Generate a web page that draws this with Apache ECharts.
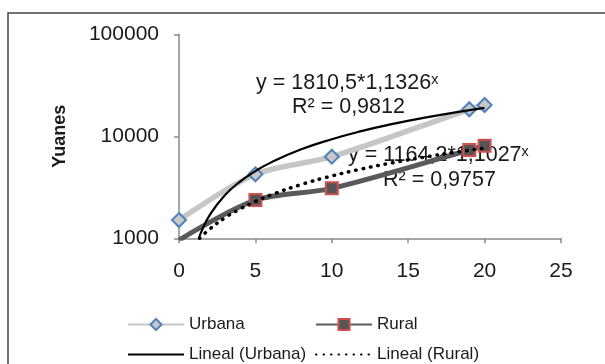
<!DOCTYPE html>
<html>
<head>
<meta charset="utf-8">
<script src="https://cdn.jsdelivr.net/npm/echarts@6/dist/echarts.min.js"></script>
<style>html,body{margin:0;padding:0;background:#fff}#c{width:605px;height:364px}</style>
</head>
<body>
<div id="c"></div>
<script>
// Data
var years = [0, 5, 10, 19, 20];
var urbana = [1510, 4240, 6310, 18400, 20270];
var rural = [960, 2370, 3090, 7340, 8090];
// Trend curves
var trendX = [1.3, 1.5, 2, 3, 4, 5, 6, 8, 10, 12, 14, 16, 18, 20];
var trendUrbana = [1000, 1195, 1680, 2640, 3600, 4560, 5520, 7450, 9370, 11300, 13220, 15140, 17070, 18990];
var trendRuralX = [1.35, 1.5, 2, 3, 4, 5, 6, 8, 10, 12, 14, 16, 18, 20];
var trendRural = [1000, 1050, 1230, 1585, 1940, 2300, 2655, 3370, 4085, 4800, 5510, 6225, 6940, 7655];
var xTicks = [0, 5, 10, 15, 20, 25];
var yTicks = [1000, 10000, 100000];

function pairs(xs, ys) { return xs.map(function (x, i) { return [x, ys[i]]; }); }

var font = '"Liberation Sans", Arial, sans-serif';
var chart = echarts.init(document.getElementById('c'), null, {renderer: 'canvas'});
var axisCol = '#8a8a8a';
var legendBase = {
  orient: 'horizontal', itemWidth: 56, itemHeight: 14, itemGap: 0, padding: 0,
  textStyle: {fontFamily: font, fontSize: 17, color: '#1a1a1a'},
  selectedMode: false
};
chart.setOption({
  animation: false,
  backgroundColor: '#ffffff',
  grid: {left: 179, right: 44, top: 34.3, bottom: 125.7},
  xAxis: {
    type: 'value', min: 0, max: 25, interval: 5,
    axisLine: {show: true, onZero: false, lineStyle: {color: axisCol, width: 1.5}},
    axisTick: {show: true, length: 5, lineStyle: {color: axisCol, width: 1.5}},
    axisLabel: {fontFamily: font, fontSize: 21, color: '#1a1a1a', margin: 22},
    splitLine: {show: false}
  },
  yAxis: {
    type: 'log', logBase: 10, min: 1000, max: 100000,
    name: 'Yuanes', nameLocation: 'middle', nameGap: 110, nameRotate: 90,
    nameTextStyle: {fontFamily: font, fontSize: 18, fontWeight: 'bold', color: '#1a1a1a'},
    axisLine: {show: true, lineStyle: {color: axisCol, width: 1.5}},
    axisTick: {show: true, length: 5, lineStyle: {color: axisCol, width: 1.5}},
    axisLabel: {fontFamily: font, fontSize: 21, color: '#1a1a1a', margin: 20,
      formatter: function (v) { return String(Math.round(v)); }},
    splitLine: {show: false}
  },
  legend: [
    Object.assign({}, legendBase, {left: 127, top: 316, data: ['Urbana']}),
    Object.assign({}, legendBase, {left: 315, top: 316, data: ['Rural']}),
    Object.assign({}, legendBase, {left: 127, top: 346, data: [{name: 'Lineal (Urbana)', itemStyle: {opacity: 0}}]}),
    Object.assign({}, legendBase, {left: 315, top: 346, data: [{name: 'Lineal (Rural)', itemStyle: {opacity: 0}}]})
  ],
  series: [
    {
      name: 'Urbana', type: 'line', data: pairs(years, urbana), smooth: 0.3,
      symbol: 'diamond', symbolSize: 14, clip: true,
      lineStyle: {color: '#c6c6c6', width: 5.5},
      itemStyle: {color: '#c8c8c8', borderColor: '#4f81bd', borderWidth: 2}, z: 2
    },
    {
      name: 'Rural', type: 'line', data: pairs(years, rural), smooth: 0.3,
      symbol: 'rect', symbolSize: 12, clip: true,
      lineStyle: {color: '#5a5a5a', width: 5},
      itemStyle: {color: '#555555', borderColor: '#d0504d', borderWidth: 2}, z: 2
    },
    {
      name: 'Lineal (Urbana)', type: 'line', data: pairs(trendX, trendUrbana), smooth: true,
      showSymbol: false, symbol: 'none', clip: true,
      lineStyle: {color: '#000000', width: 2.2},
      itemStyle: {color: '#000000'}, z: 3
    },
    {
      name: 'Lineal (Rural)', type: 'line', data: pairs(trendRuralX, trendRural), smooth: true,
      showSymbol: false, symbol: 'none', clip: true,
      lineStyle: {color: '#000000', width: 3.5, type: [0.5, 7], cap: 'round'},
      itemStyle: {color: '#000000'}, z: 3
    }
  ],
  graphic: [
    {type: 'rect', shape: {x: 8, y: 13, width: 620, height: 380},
      style: {fill: 'none', stroke: '#444444', lineWidth: 1.5}, silent: true, z: -1},
    {type: 'text', left: 256, top: 72, z: 10,
      style: {text: 'y = 1810,5*1,1326ˣ', font: '21.5px "Liberation Sans", Arial, sans-serif', fill: '#1a1a1a'}},
    {type: 'text', left: 292, top: 96, z: 10,
      style: {text: 'R² = 0,9812', font: '21.5px "Liberation Sans", Arial, sans-serif', fill: '#1a1a1a'}},
    {type: 'text', left: 348, top: 144, z: 1,
      style: {text: 'y = 1164,2*1,1027ˣ', font: '21.5px "Liberation Sans", Arial, sans-serif', fill: '#1a1a1a'}},
    {type: 'text', left: 383, top: 169, z: 1,
      style: {text: 'R² = 0,9757', font: '21.5px "Liberation Sans", Arial, sans-serif', fill: '#1a1a1a'}}
  ]
});
</script>
</body>
</html>
